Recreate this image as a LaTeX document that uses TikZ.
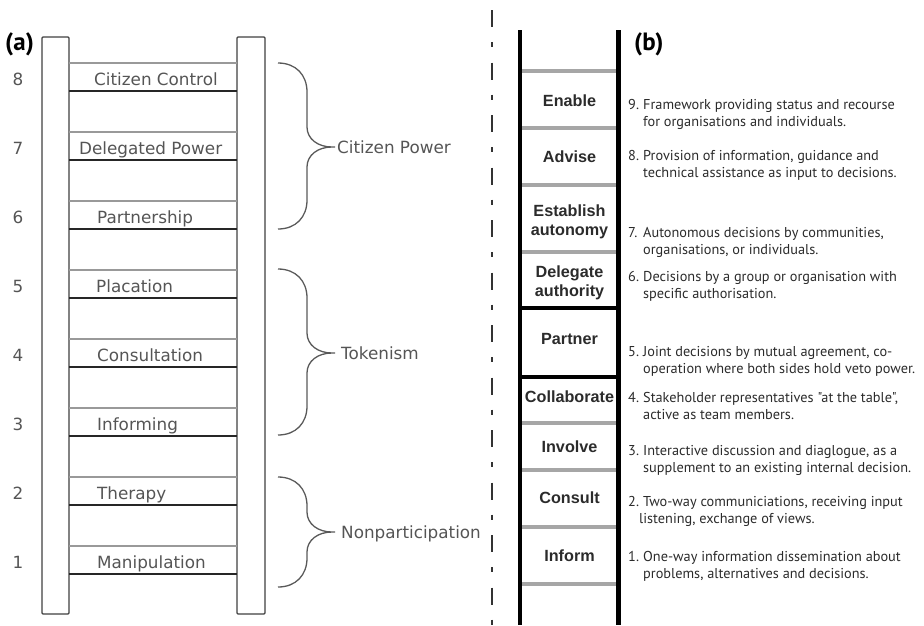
\documentclass[tikz,border=0pt]{standalone}
\usepackage{fontspec}
\usepackage{tikz}
\newfontfamily\ladderfont{DejaVu Sans}
\newfontfamily\notefont{PT Sans}
\newfontfamily\rungfont{Liberation Sans}
\definecolor{ink}{HTML}{2B2B2B}
\definecolor{inkL}{HTML}{555555}
\definecolor{rungG}{HTML}{A6A6A6}
\tikzset{
  rail/.style   ={draw=black!75, line width=1.2pt, fill=white, rounded corners=1pt},
  rungT/.style  ={draw=black!40, line width=1.1pt},
  rungB/.style  ={draw=black!85, line width=1.8pt},
  stp/.style    ={font=\ladderfont\fontsize{16.8}{20}\selectfont, text=inkL, inner sep=0pt},
  num/.style    ={stp},
  grp/.style    ={stp},
  brc/.style    ={draw=black!65, line width=1.3pt},
  divider/.style={draw=black!80, line width=1.4pt,
                  dash pattern=on 17pt off 15pt on 5pt off 15.5pt},
  railb/.style  ={draw=black, line width=4.5pt},
  barG/.style   ={draw=rungG, line width=4.5pt},
  barK/.style   ={draw=black, line width=4.5pt},
  lad/.style    ={font=\rungfont\bfseries\fontsize{16.2}{19.5}\selectfont, text=ink,
                  align=center, inner sep=0pt},
  dsc/.style    ={font=\notefont\fontsize{14.3}{17}\selectfont, text=ink, inner sep=0pt,
                  anchor=base west},
  tag/.style    ={font=\notefont\bfseries\fontsize{25}{27}\selectfont, text=black,
                  inner sep=0pt, anchor=base west},
}
% one numbered note of ladder (b): number, baseline, first line, second line
\newcommand{\stepnote}[4]{%
  \node[dsc] (#1n) at (628,#2) {#1.};
  \node[dsc] (#1a) at (643,#2) {#3};
  \node[dsc] (#1b) at (643,{#2+17}) {#4};}

\begin{document}
\begin{tikzpicture}[x=1pt, y=-1pt]
\useasboundingbox (0,0) rectangle (924,625);

% ---------------- ladder (a) -------------------------------------------------
\draw[rail] (42,37) rectangle (69,614);
\draw[rail] (237,37) rectangle (265,614);
\foreach \k/\txt/\xl in {8/Citizen Control/94, 7/Delegated Power/79,
    6/Partnership/97, 5/Placation/96, 4/Consultation/97, 3/Informing/97,
    2/Therapy/97, 1/Manipulation/97}{
  \pgfmathsetmacro\yt{63+(8-\k)*69}
  \draw[rungT] (69,\yt) -- (237,\yt);
  \draw[rungB] (69,\yt+28) -- (237,\yt+28);
  \node[stp, anchor=base west] (s\k) at (\xl,\yt+22) {\txt};
  \node[num, anchor=base] (n\k) at (18,\yt+22) {\k};
}

% braces
\foreach \t/\m/\b/\xt/\txt in {63/147/229/337/Citizen Power,
    269/353/435/341/Tokenism, 477/532/587/341/Nonparticipation}{
  \draw[brc] (278,\t) .. controls (296,\t) and (307,{\t+12}) .. (307,{\t+29})
    -- (307,{\m-20}) .. controls (307,{\m-8}) and (318,\m) .. (332,\m)
    -- (335,\m) -- (332,\m)
    .. controls (318,\m) and (307,{\m+8}) .. (307,{\m+20})
    -- (307,{\b-29}) .. controls (307,{\b-12}) and (296,\b) .. (278,\b);
  \node[grp, anchor=base west] (g\m) at (\xt,{\m+6}) {\txt};
}

\node[tag] (taga) at (5,50) {(a)};

% ---------------- divider ----------------------------------------------------
\draw[divider] (492,10) -- (492,625);

% ---------------- ladder (b) -------------------------------------------------
\draw[railb] (520,30) -- (520,625);
\draw[railb] (618.5,30) -- (618.5,625);
\foreach \y in {71,128,185,252,423,470,527,584}
  \draw[barG] (522,\y) -- (616,\y);
\foreach \y in {308,377}
  \draw[barK] (522,\y) -- (616,\y);

\node[lad] (enable)    at (569.5,101) {Enable};
\node[lad] (advise)    at (569.5,157) {Advise};
\node[lad] (establish) at (569.5,222) {Establish\\autonomy};
\node[lad] (delegate)  at (569.5,283) {Delegate\\authority};
\node[lad] (partner)   at (569.5,339) {Partner};
\node[lad] (collab)    at (569.5,397) {Collaborate};
\node[lad] (involve)   at (569.5,447) {Involve};
\node[lad] (consult)   at (569.5,498) {Consult};
\node[lad] (inform)    at (569.5,556) {Inform};

\node[tag] (tagb) at (634,50) {(b)};

% notes
\stepnote{9}{109}{Framework providing status and recourse}{for organisations and individuals.}
\stepnote{8}{160}{Provision of information, guidance and}{technical assistance as input to decisions.}
\stepnote{7}{237}{Autonomous decisions by communities,}{organisations, or individuals.}
\stepnote{6}{281}{Decisions by a group or organisation with}{specific authorisation.}
\stepnote{5}{356}{Joint decisions by mutual agreement, co-}{operation where both sides hold veto power.}
\stepnote{4}{402}{Stakeholder representatives "at the table",}{active as team members.}
\stepnote{3}{455}{Interactive discussion and diaglogue, as a}{supplement to an existing internal decision.}
\node[dsc] (2n) at (628,506) {2.};
\node[dsc] (2a) at (643,506) {Two-way communiciations, receiving input};
\node[dsc] (2b) at (639,523) {listening, exchange of views.};
\stepnote{1}{561}{One-way information dissemination about}{problems, alternatives and decisions.}

\end{tikzpicture}
\end{document}
